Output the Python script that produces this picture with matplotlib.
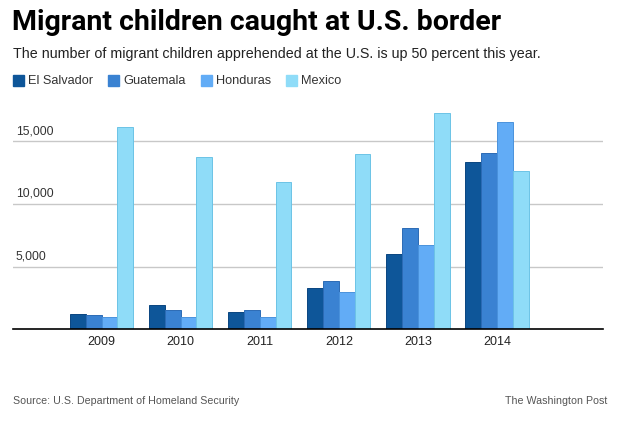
import matplotlib
matplotlib.use("Agg")
import matplotlib.pyplot as plt
import numpy as np

# data
years = ["2009", "2010", "2011", "2012", "2013", "2014"]
el_salvador = [1220, 1910, 1390, 3310, 5990, 13340]
guatemala = [1120, 1520, 1570, 3840, 8070, 14060]
honduras = [970, 1020, 970, 3000, 6750, 16530]
mexico = [16110, 13720, 11770, 13970, 17240, 12630]
series_names = ["El Salvador", "Guatemala", "Honduras", "Mexico"]
y_ticks = [5000, 10000, 15000]

colores = ["#0e5699", "#3a82d2", "#62acf6", "#8fdcf8"]
bordes = ["#0a4580", "#2c6bb5", "#4a92dc", "#6cc3e6"]

plt.rcParams["font.family"] = ["Liberation Sans", "DejaVu Sans"]

W, H = 622, 425
fig = plt.figure(figsize=(W / 100, H / 100), dpi=100)
fig.patch.set_facecolor("white")

# axes placed in pixel coordinates
x0, x1 = 13, 603
y_base, y_top = 329.3, 103.6
ax = fig.add_axes([x0 / W, (H - y_base) / H, (x1 - x0) / W, (y_base - y_top) / H])

x = np.arange(len(years))
ancho = 0.2
datos = [el_salvador, guatemala, honduras, mexico]
for i, (serie, c, b) in enumerate(zip(datos, colores, bordes)):
    ax.bar(x + (i - 1.5) * ancho, serie, width=ancho, color=c,
           edgecolor=b, linewidth=0.7, zorder=3)

ax.set_xlim(-1.12, 6.34)
ax.set_ylim(0, 18000)

for v in y_ticks:
    ax.axhline(v, color="#c8c8c8", linewidth=1, zorder=1)
    ax.annotate(f"{v:,}", xy=(0, v), xycoords=("axes fraction", "data"),
                xytext=(2, 3), textcoords="offset points", va="bottom",
                ha="left", fontsize=8.7, color="#333333")

ax.set_yticks([])
ax.set_xticks(x)
ax.set_xticklabels(years, fontsize=9, color="#222222")
ax.tick_params(axis="x", length=0, pad=5)
for s in ["top", "right", "left"]:
    ax.spines[s].set_visible(False)
ax.spines["bottom"].set_color("black")
ax.spines["bottom"].set_linewidth(1.2)
ax.spines["bottom"].set_zorder(4)

# title block
fig.text(12 / W, 1 - 23 / H, "Migrant children caught at U.S. border",
         fontsize=20.5, fontweight="bold", va="center", ha="left",
         family=["Roboto", "DejaVu Sans"], color="black")
fig.text(13 / W, 1 - 54 / H,
         "The number of migrant children apprehended at the U.S. is up 50 percent this year.",
         fontsize=10.3, va="center", ha="left", color="#222222")

# legend
leg_x = [13, 108, 201, 286]
for nombre, c, lx in zip(series_names, colores, leg_x):
    fig.patches.append(plt.Rectangle((lx / W, 1 - 86 / H), 11 / W, 11 / H,
                                     transform=fig.transFigure, color=c))
    fig.text((lx + 15) / W, 1 - 81 / H, nombre, fontsize=9.2, va="center",
             ha="left", color="#333333")

# footer
fig.text(13 / W, 1 - 401 / H, "Source: U.S. Department of Homeland Security",
         fontsize=7.65, va="center", ha="left", color="#555555")
fig.text(607 / W, 1 - 401 / H, "The Washington Post",
         fontsize=7.65, va="center", ha="right", color="#555555")

fig.savefig("out.png", dpi=100, facecolor="white")
